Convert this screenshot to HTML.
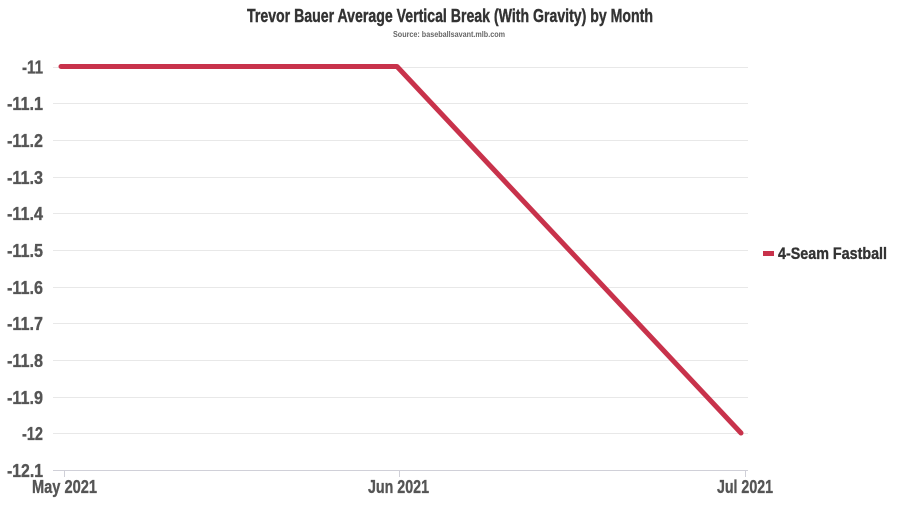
<!DOCTYPE html>
<html><head><meta charset="utf-8"><style>
html,body{margin:0;padding:0;background:#fff;}
svg{display:block;}
text{font-family:"Liberation Sans Narrow","Liberation Sans",sans-serif;font-weight:bold;}
</style></head><body>
<svg width="900" height="506" viewBox="0 0 900 506" xmlns="http://www.w3.org/2000/svg">
<rect width="900" height="506" fill="#fff"/>
<text x="450" y="22" text-anchor="middle" font-size="18" fill="#333" stroke="#333" stroke-width="0.4" textLength="406" lengthAdjust="spacingAndGlyphs">Trevor Bauer Average Vertical Break (With Gravity) by Month</text>
<text x="449" y="37" text-anchor="middle" font-size="8" fill="#666" textLength="112" lengthAdjust="spacingAndGlyphs">Source: baseballsavant.mlb.com</text>
<g stroke="#e8e8e8" stroke-width="1">
<line x1="53" y1="67.5" x2="748" y2="67.5"/>
<line x1="53" y1="103.5" x2="748" y2="103.5"/>
<line x1="53" y1="140.5" x2="748" y2="140.5"/>
<line x1="53" y1="177.5" x2="748" y2="177.5"/>
<line x1="53" y1="213.5" x2="748" y2="213.5"/>
<line x1="53" y1="250.5" x2="748" y2="250.5"/>
<line x1="53" y1="287.5" x2="748" y2="287.5"/>
<line x1="53" y1="323.5" x2="748" y2="323.5"/>
<line x1="53" y1="360.5" x2="748" y2="360.5"/>
<line x1="53" y1="397.5" x2="748" y2="397.5"/>
<line x1="53" y1="433.5" x2="748" y2="433.5"/>
</g>
<line x1="53" y1="470.5" x2="748" y2="470.5" stroke="#d0d0d8" stroke-width="1"/>
<g stroke="#d0d0d8" stroke-width="1">
<line x1="64.5" y1="470" x2="64.5" y2="477"/>
<line x1="399.5" y1="470" x2="399.5" y2="477"/>
<line x1="745.5" y1="470" x2="745.5" y2="477"/>
</g>
<g font-size="18" fill="#555" stroke="#555" stroke-width="0.35" text-anchor="end">
<text x="43" y="73.5" textLength="21" lengthAdjust="spacingAndGlyphs">-11</text>
<text x="43" y="110" textLength="36" lengthAdjust="spacingAndGlyphs">-11.1</text>
<text x="43" y="147" textLength="36" lengthAdjust="spacingAndGlyphs">-11.2</text>
<text x="43" y="184" textLength="36" lengthAdjust="spacingAndGlyphs">-11.3</text>
<text x="43" y="220" textLength="36" lengthAdjust="spacingAndGlyphs">-11.4</text>
<text x="43" y="257" textLength="36" lengthAdjust="spacingAndGlyphs">-11.5</text>
<text x="43" y="294" textLength="36" lengthAdjust="spacingAndGlyphs">-11.6</text>
<text x="43" y="330" textLength="36" lengthAdjust="spacingAndGlyphs">-11.7</text>
<text x="43" y="367" textLength="36" lengthAdjust="spacingAndGlyphs">-11.8</text>
<text x="43" y="404" textLength="36" lengthAdjust="spacingAndGlyphs">-11.9</text>
<text x="43" y="440" textLength="21" lengthAdjust="spacingAndGlyphs">-12</text>
<text x="43" y="477" textLength="36" lengthAdjust="spacingAndGlyphs">-12.1</text>
</g>
<g font-size="18" fill="#555" stroke="#555" stroke-width="0.35" text-anchor="middle">
<text x="64.5" y="493" textLength="65" lengthAdjust="spacingAndGlyphs">May 2021</text>
<text x="398.5" y="493" textLength="61" lengthAdjust="spacingAndGlyphs">Jun 2021</text>
<text x="745" y="493" textLength="56" lengthAdjust="spacingAndGlyphs">Jul 2021</text>
</g>
<polyline points="61,66.5 397,66.5 741,433" fill="none" stroke="#c8324b" stroke-width="5" stroke-linecap="round" stroke-linejoin="round"/>
<rect x="763" y="251" width="11" height="5" fill="#c8324b"/>
<text x="778" y="259" font-size="17" fill="#333" stroke="#333" stroke-width="0.35" textLength="109" lengthAdjust="spacingAndGlyphs">4-Seam Fastball</text>
</svg>
</body></html>
